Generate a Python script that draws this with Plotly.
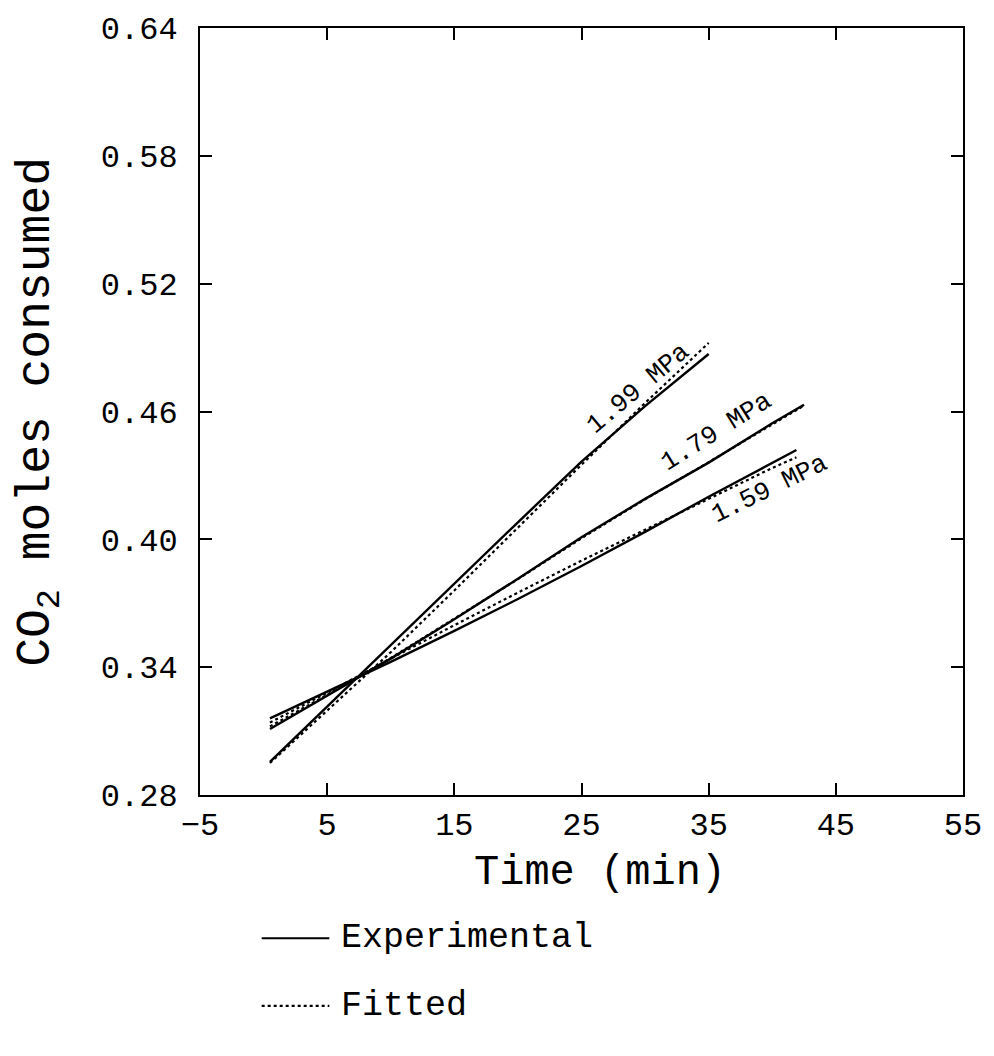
import plotly.graph_objects as go

# ---- data ----
t_199 = [0.5, 5, 10, 15, 20, 25, 30, 35]
exp_199 = [0.2955, 0.3215, 0.3500, 0.3790, 0.4080, 0.4365, 0.4625, 0.4870]
fit_199 = [0.2950, 0.3195, 0.3470, 0.3760, 0.4055, 0.4350, 0.4640, 0.4922]

t_179 = [0.5, 5, 10, 15, 20, 25, 30, 35, 40, 42.5]
exp_179 = [0.3110, 0.3265, 0.3440, 0.3625, 0.3815, 0.4010, 0.4190, 0.4360, 0.4545, 0.4632]
fit_179 = [0.3122, 0.3270, 0.3443, 0.3627, 0.3813, 0.4005, 0.4188, 0.4362, 0.4540, 0.4628]

t_159 = [0.5, 5, 10, 15, 20, 25, 30, 35, 40, 41.9]
exp_159 = [0.3160, 0.3285, 0.3425, 0.3570, 0.3720, 0.3875, 0.4035, 0.4200, 0.4360, 0.4419]
fit_159 = [0.3140, 0.3280, 0.3440, 0.3597, 0.3750, 0.3900, 0.4045, 0.4190, 0.4335, 0.4385]

labels = ["1.99 MPa", "1.79 MPa", "1.59 MPa"]
label_t = [29.45, 35.6, 39.8]
label_v = [0.4705, 0.4504, 0.4238]
label_angle = [-40, -32, -26]

x_ticks = [-5, 5, 15, 25, 35, 45, 55]
y_ticks = [0.28, 0.34, 0.40, 0.46, 0.52, 0.58, 0.64]

FONT = "Liberation Mono, Courier New, monospace"

# plot-area geometry (pixels)
W, H = 994, 1056
ML, MR, MT, MB = 200, 27, 24, 261
PW, PH = W - ML - MR, H - MT - MB


def px_to_paper(xp, yp):
    return (xp - ML) / PW, (H - MB - yp) / PH


fig = go.Figure()
series = [(t_199, exp_199, fit_199), (t_179, exp_179, fit_179), (t_159, exp_159, fit_159)]
for (t, e, f), name in zip(series, labels):
    fig.add_trace(go.Scatter(x=t, y=e, mode="lines", name=name + " experimental",
                             line=dict(color="black", width=2.4), showlegend=False))
    fig.add_trace(go.Scatter(x=t, y=f, mode="lines", name=name + " fitted",
                             line=dict(color="black", width=2.2, dash="dot"), showlegend=False))

for txt, tx, ty, ang in zip(labels, label_t, label_v, label_angle):
    fig.add_annotation(x=tx, y=ty, text=txt, showarrow=False, textangle=ang,
                       font=dict(family=FONT, size=26, color="black"))

# legend drawn below the axes
legend_items = [("Experimental", "solid", 939), ("Fitted", "dot", 1007)]
for txt, dash, ypix in legend_items:
    x0, yp = px_to_paper(262, ypix)
    x1, _ = px_to_paper(330, ypix)
    fig.add_shape(type="line", xref="paper", yref="paper", x0=x0, x1=x1, y0=yp, y1=yp,
                  line=dict(color="black", width=2.2, dash=dash))
    xt, _ = px_to_paper(340, ypix)
    fig.add_annotation(xref="paper", yref="paper", x=xt, y=yp, text=txt,
                       showarrow=False, xanchor="left", yanchor="middle",
                       font=dict(family=FONT, size=35, color="black"))

# axis titles
xt, yt = px_to_paper(602, 873)
fig.add_annotation(xref="paper", yref="paper", x=xt, y=yt, text="Time (min)", showarrow=False,
                   xanchor="center", yanchor="middle", font=dict(family=FONT, size=42, color="black"))
xt, yt = px_to_paper(38, 410)
fig.add_annotation(xref="paper", yref="paper", x=xt, y=yt, text="CO<sub>2</sub> moles consumed",
                   showarrow=False, textangle=-90, xanchor="center", yanchor="middle",
                   font=dict(family=FONT, size=48, color="black"))

axis_common = dict(showgrid=False, zeroline=False, showline=True, linecolor="black",
                   linewidth=2, ticks="inside", ticklen=12, tickwidth=2, tickcolor="black",
                   mirror="ticks", tickfont=dict(family=FONT, size=32, color="black"))

fig.update_xaxes(range=[-5, 55], tickvals=x_ticks,
                 ticktext=[str(v).replace("-", "−") for v in x_ticks], **axis_common)
fig.update_yaxes(range=[0.28, 0.64], tickvals=y_ticks, ticktext=[f"{v:.2f}" for v in y_ticks],
                 ticklabelstandoff=14, **axis_common)

fig.update_layout(width=W, height=H, margin=dict(l=ML, r=MR, t=MT, b=MB),
                  plot_bgcolor="white", paper_bgcolor="white", showlegend=False)

fig.write_html("out.html")
